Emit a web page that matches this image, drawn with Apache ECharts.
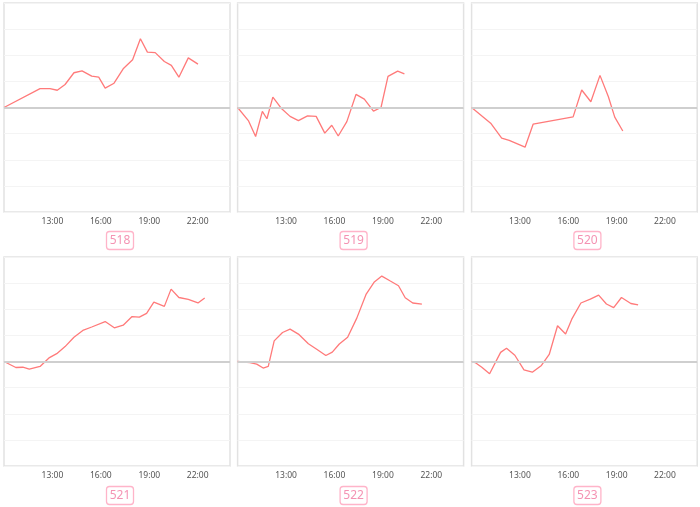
<!DOCTYPE html>
<html>
<head>
<meta charset="utf-8">
<script src="https://cdn.jsdelivr.net/npm/echarts@6/dist/echarts.min.js"></script>
<style>html,body{margin:0;padding:0;background:#fff}#c{width:700px;height:507px}</style>
</head>
<body>
<div id="c"></div>
<script>
const panelNames = ['518', '519', '520', '521', '522', '523'];
const xTickHours = [10, 24, 3]; // min, max, interval (hours)

const times518 = ['10:00','12:14','12:51','13:18','13:47','14:20','14:50','15:26','15:52','16:16','16:49','17:23','17:58','18:27','18:53','19:22','19:56','20:22','20:50','21:25','22:01'];
const values518 = [0,0.72,0.72,0.66,0.88,1.33,1.40,1.20,1.16,0.74,0.93,1.48,1.83,2.63,2.12,2.10,1.76,1.61,1.16,1.90,1.66];

const times519 = ['10:00','10:40','11:07','11:32','11:49','12:11','12:44','13:15','13:46','14:20','14:52','15:24','15:50','16:14','16:46','17:20','17:51','18:25','18:53','19:19','19:55','20:20'];
const values519 = [0,-0.50,-1.11,-0.15,-0.43,0.40,-0.05,-0.34,-0.50,-0.32,-0.34,-0.98,-0.68,-1.09,-0.54,0.50,0.32,-0.14,0,1.19,1.39,1.29];

const times520 = ['10:00','11:11','11:52','12:20','13:19','13:49','16:18','16:50','17:24','17:58','18:29','18:53','19:23'];
const values520 = [0,-0.60,-1.17,-1.26,-1.52,-0.64,-0.36,0.67,0.22,1.23,0.42,-0.37,-0.90];

const times521 = ['10:00','10:44','11:10','11:34','12:14','12:49','13:16','13:47','14:20','14:53','15:26','16:16','16:50','17:23','17:56','18:23','18:50','19:17','19:56','20:21','20:50','21:25','22:01','22:26'];
const values521 = [0,-0.23,-0.22,-0.29,-0.19,0.15,0.30,0.57,0.93,1.19,1.32,1.53,1.29,1.39,1.72,1.70,1.84,2.27,2.11,2.77,2.45,2.38,2.24,2.43];

const times522 = ['10:00','10:46','11:11','11:35','11:54','12:16','12:47','13:15','13:46','14:23','14:54','15:28','15:52','16:18','16:49','17:23','17:58','18:27','18:56','19:26','19:58','20:23','20:51','21:25'];
const values522 = [0,-0.04,-0.10,-0.25,-0.19,0.79,1.11,1.24,1.05,0.68,0.47,0.23,0.36,0.67,0.93,1.66,2.58,3.03,3.27,3.09,2.90,2.44,2.24,2.20];

const times523 = ['10:00','10:13','10:38','11:07','11:48','12:10','12:41','13:15','13:46','14:20','14:49','15:20','15:50','16:13','16:47','17:22','17:53','18:22','18:49','19:18','19:53','20:20'];
const values523 = [0,-0.04,-0.22,-0.47,0.35,0.51,0.24,-0.32,-0.41,-0.15,0.27,1.37,1.05,1.62,2.24,2.39,2.54,2.20,2.06,2.45,2.22,2.17];

const allTimes = [times518, times519, times520, times521, times522, times523];
const allValues = [values518, values519, values520, values521, values522, values523];

function toHour(t) { const p = t.split(':'); return +p[0] + (+p[1]) / 60; }

const cols = [{left: 4, width: 226}, {left: 237.6, width: 226}, {left: 471.6, width: 225.6}];
const rows = [{top: 3, height: 209, label: 241}, {top: 257, height: 209, label: 496}];

const grids = [], xAxes = [], yAxes = [], series = [], titles = [];
for (let i = 0; i < 6; i++) {
  const c = cols[i % 3], r = rows[Math.floor(i / 3)];
  grids.push({left: c.left, top: r.top, width: c.width, height: r.height, show: true,
    borderColor: '#e2e2e2', borderWidth: 1.5, backgroundColor: '#fff'});
  xAxes.push({type: 'value', gridIndex: i, min: xTickHours[0], max: xTickHours[1], interval: xTickHours[2],
    axisLine: {show: false}, axisTick: {show: false}, splitLine: {show: false},
    axisLabel: {showMinLabel: false, showMaxLabel: false, fontSize: 8.5, color: '#555', margin: 5,
      fontFamily: 'Noto Sans', formatter: v => v + ':00'}});
  yAxes.push({type: 'value', gridIndex: i, min: -4, max: 4, interval: 1,
    axisLine: {show: false}, axisTick: {show: false}, axisLabel: {show: false},
    splitLine: {lineStyle: {color: '#f4f4f4', width: 1}}});
  series.push({type: 'line', xAxisIndex: i, yAxisIndex: i, symbol: 'none',
    data: allTimes[i].map((t, k) => [toHour(t), allValues[i][k]]),
    lineStyle: {color: '#ff7a7a', width: 1.3}, itemStyle: {color: '#ff7a7a'},
    markLine: {silent: true, symbol: 'none', label: {show: false},
      lineStyle: {color: '#cfcfcf', width: 2, type: 'solid'}, data: [{yAxis: 0}]}});
  titles.push({text: panelNames[i], left: c.left + c.width / 2, textAlign: 'center',
    top: r.label - 10, borderColor: '#ffb4c9', borderWidth: 1.3, borderRadius: 3,
    padding: [3, 3, 2, 3],
    textStyle: {color: '#f493b3', fontSize: 12, lineHeight: 14, fontWeight: 'normal', fontFamily: 'Noto Sans'}});
}

const chart = echarts.init(document.getElementById('c'), null, {renderer: 'canvas'});
chart.setOption({animation: false, title: titles, grid: grids, xAxis: xAxes, yAxis: yAxes, series: series});
</script>
</body>
</html>
